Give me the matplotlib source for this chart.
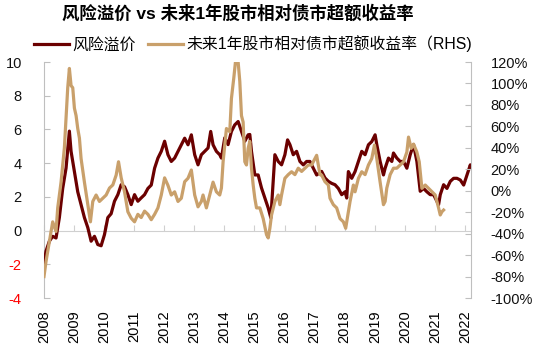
import matplotlib
matplotlib.use("Agg")
import matplotlib.pyplot as plt
from matplotlib.lines import Line2D
from matplotlib.ticker import FuncFormatter

plt.rcParams["font.family"] = ["Liberation Sans", "Noto Sans CJK SC"]

# risk premium (left axis)
risk_years = [2008.0, 2008.067, 2008.178, 2008.289, 2008.4, 2008.511, 2008.622, 2008.733,
              2008.844, 2008.9, 2008.956, 2009.011, 2009.122, 2009.233, 2009.344, 2009.456,
              2009.567, 2009.678, 2009.789, 2009.9, 2010.011, 2010.122, 2010.233, 2010.344,
              2010.456, 2010.567, 2010.678, 2010.789, 2010.9, 2011.011, 2011.122, 2011.233,
              2011.344, 2011.456, 2011.567, 2011.678, 2011.789, 2011.9, 2012.011, 2012.122,
              2012.233, 2012.344, 2012.456, 2012.567, 2012.678, 2012.789, 2012.9, 2013.011,
              2013.122, 2013.233, 2013.344, 2013.456, 2013.544, 2013.622, 2013.733, 2013.844,
              2013.9, 2014.011, 2014.122, 2014.233, 2014.344, 2014.456, 2014.567, 2014.678,
              2014.789, 2014.844, 2014.9, 2015.011, 2015.122, 2015.233, 2015.344, 2015.456,
              2015.544, 2015.622, 2015.678, 2015.789, 2015.9, 2016.011, 2016.1, 2016.178,
              2016.289, 2016.4, 2016.511, 2016.622, 2016.733, 2016.844, 2016.956, 2017.067,
              2017.233, 2017.344, 2017.456, 2017.567, 2017.678, 2017.789, 2017.9, 2018.011,
              2018.067, 2018.122, 2018.233, 2018.344, 2018.456, 2018.567, 2018.678, 2018.789,
              2018.9, 2019.011, 2019.067, 2019.178, 2019.289, 2019.344, 2019.456, 2019.567,
              2019.622, 2019.733, 2019.844, 2019.956, 2020.067, 2020.178, 2020.289, 2020.4,
              2020.511, 2020.622, 2020.733, 2020.844, 2020.956, 2021.067, 2021.122, 2021.178,
              2021.289, 2021.4, 2021.511, 2021.622, 2021.733, 2021.844, 2021.956, 2022.067,
              2022.178, 2022.2]
risk_vals = [-2.0, -1.22, -0.63, -0.34, -0.44, 0.77, 2.5, 3.7,
             5.9, 4.7, 4.1, 3.5, 2.3, 1.54, 0.77, 0.18,
             -0.63, -0.34, -0.83, -0.9, -0.24, 0.77, 1.0, 1.74,
             2.13, 2.72, 2.6, 2.13, 1.54, 2.13, 1.74, 1.94,
             2.13, 2.5, 2.7, 3.7, 4.3, 4.7, 5.3, 4.5,
             4.1, 4.3, 4.7, 5.09, 5.48, 5.09, 5.68, 4.5,
             3.9, 4.5, 4.7, 4.9, 5.88, 5.09, 4.7, 4.5,
             4.3, 5.5, 5.1, 5.88, 6.27, 6.47, 5.88, 5.3,
             5.68, 5.7, 4.7, 3.3, 3.3, 2.53, 1.93, 1.34,
             0.75, 2.92, 4.5, 4.1, 3.9, 4.5, 5.38, 5.1,
             4.5, 4.7, 4.1, 3.9, 4.1, 4.1, 3.7, 3.3,
             3.51, 3.12, 2.92, 2.8, 2.72, 2.5, 2.13, 2.3,
             1.93, 3.5, 3.1, 3.5, 4.1, 4.7, 4.5, 5.09,
             5.28, 5.68, 5.1, 4.1, 3.3, 3.7, 4.3, 4.1,
             4.6, 4.3, 4.1, 4.1, 3.7, 4.5, 5.1, 4.1,
             2.33, 2.5, 2.3, 2.13, 2.13, 1.74, 1.54, 2.13,
             2.72, 2.5, 2.92, 3.1, 3.1, 3.0, 2.7, 3.3,
             3.9, 3.7]

# next-1-year stock vs bond excess return, % (right axis)
ret_years = [2008.0, 2008.067, 2008.178, 2008.289, 2008.4, 2008.456, 2008.567, 2008.678,
             2008.733, 2008.789, 2008.844, 2008.9, 2008.956, 2009.011, 2009.067, 2009.122,
             2009.178, 2009.233, 2009.344, 2009.456, 2009.544, 2009.622, 2009.733, 2009.844,
             2009.956, 2010.067, 2010.178, 2010.289, 2010.4, 2010.478, 2010.567, 2010.678,
             2010.789, 2010.9, 2011.011, 2011.122, 2011.233, 2011.344, 2011.456, 2011.567,
             2011.678, 2011.789, 2011.9, 2012.011, 2012.122, 2012.233, 2012.344, 2012.456,
             2012.567, 2012.678, 2012.789, 2012.9, 2013.011, 2013.122, 2013.233, 2013.289,
             2013.4, 2013.511, 2013.622, 2013.733, 2013.844, 2013.9, 2013.956, 2014.067,
             2014.178, 2014.233, 2014.311, 2014.367, 2014.456, 2014.511, 2014.567, 2014.622,
             2014.678, 2014.733, 2014.789, 2014.844, 2014.9, 2014.956, 2015.011, 2015.067,
             2015.178, 2015.289, 2015.4, 2015.456, 2015.511, 2015.567, 2015.678, 2015.789,
             2015.844, 2015.9, 2016.011, 2016.122, 2016.233, 2016.344, 2016.456, 2016.567,
             2016.678, 2016.789, 2016.9, 2017.011, 2017.067, 2017.122, 2017.178, 2017.233,
             2017.344, 2017.456, 2017.511, 2017.622, 2017.733, 2017.844, 2017.956, 2018.033,
             2018.122, 2018.178, 2018.289, 2018.344, 2018.456, 2018.567, 2018.678, 2018.789,
             2018.9, 2018.989, 2019.067, 2019.178, 2019.289, 2019.344, 2019.4, 2019.511,
             2019.622, 2019.733, 2019.844, 2019.956, 2020.067, 2020.122, 2020.211, 2020.289,
             2020.4, 2020.478, 2020.567, 2020.678, 2020.789, 2020.9, 2021.011, 2021.122,
             2021.178, 2021.233, 2021.289]
ret_vals = [-80, -66, -47.5, -29, -38, -16, 8, 40,
            68, 96, 114, 98, 96, 77, 70, 58,
            49, 30, 8, -13, -29, -10, -4, -10,
            -7, -4, 2.5, 5.4, 14.6, 27, 12, -1,
            -19.6, -25.6, -29, -22, -25, -19, -22, -27,
            -22, -16, -4, 12, 5, -4, -1, -10,
            -7, 8.4, 11.6, 19.3, -4, -15, -10, -4,
            -16, -4, 8, -1, -4, 2.5, 27, 58,
            55, 86, 105, 120, 120, 102, 70, 64,
            27, 24, 39.5, 46, 21, 5.3, -7, -16,
            -16, -26, -41, -44, -35, -22.6, -10, -4,
            -13, -4, 11.6, 15, 17.7, 15, 21, 18,
            21, 24, 24, 30, 33, 24, 15, 14.6,
            8.4, 5.3, -7, -13, -16, -26, -29, -35,
            -19.6, -10, 5.3, -1, 11.6, 17.7, 15, 24,
            30, 42.6, 30, 8, -13, -10, 2.5, 15,
            21, 21, 24, 27, 36, 50, 39.5, 43.5,
            36, 27, 2.2, 5.3, 2.2, -1, -4, -16,
            -22.6, -19.6, -18]

years = list(range(2008, 2023))
left_ticks = list(range(-4, 11, 2))
right_ticks = list(range(-100, 121, 20))

maroon = "#6b0000"
tan = "#c9a06b"
grey = "#bfbfbf"

fig = plt.figure(figsize=(5.42, 3.5), dpi=100)
ax = fig.add_axes([44 / 542, 52 / 350, 427 / 542, 236 / 350])
ax2 = ax.twinx()

ax.plot(risk_years, risk_vals, color=maroon, lw=2.3, zorder=3)
ax2.plot(ret_years, ret_vals, color=tan, lw=2.3, zorder=3)

ax.set_xlim(2008, 2022.2)
ax.set_ylim(-4, 10)
ax2.set_ylim(-100, 120)

for a in (ax, ax2):
    a.spines["top"].set_visible(False)
ax.spines["right"].set_visible(False)
ax2.spines["left"].set_visible(False)
ax2.spines["bottom"].set_visible(False)
ax.spines["left"].set_color(grey)
ax2.spines["right"].set_color(grey)

# zero line acts as x axis
ax.spines["bottom"].set_position(("data", 0))
ax.spines["bottom"].set_color("#d0d0d0")
ax.set_xticks(years)
ax.tick_params(axis="x", direction="in", length=4, color="#d0d0d0", labelbottom=False)

sec = ax.secondary_xaxis("bottom")
sec.set_xticks(years)
sec.set_xticklabels([str(y) for y in years], rotation=90, fontsize=10.5)
sec.tick_params(length=0, pad=9)
sec.spines["bottom"].set_visible(False)

ax.set_yticks(left_ticks)
ax.set_yticklabels([str(t) for t in left_ticks], fontsize=10.5)
for lbl, t in zip(ax.get_yticklabels(), left_ticks):
    lbl.set_color("#ff0000" if t < 0 else "#111111")
ax.tick_params(axis="y", direction="in", length=4, color=grey, pad=16)

ax2.set_yticks(right_ticks)
ax2.yaxis.set_major_formatter(FuncFormatter(lambda v, p: f"{v:.0f}%"))
ax2.tick_params(axis="y", direction="in", length=4, color=grey, pad=14, labelsize=10.5,
                labelcolor="#111111")

fig.text(238 / 542, 1 - 13 / 350, "风险溢价 vs 未来1年股市相对债市超额收益率",
         ha="center", va="center", fontsize=12.5, fontweight="bold")

handles = [Line2D([0], [0], color=maroon, lw=2.3, label="风险溢价"),
           Line2D([0], [0], color=tan, lw=2.3, label="未来1年股市相对债市超额收益率（RHS)")]
fig.legend(handles=handles, loc="center left", bbox_to_anchor=(34 / 542, 1 - 44 / 350),
           ncol=2, frameon=False, fontsize=11.4, handlelength=2.2, handletextpad=0.2,
           columnspacing=0.8, borderpad=0, borderaxespad=0)

fig.savefig("out.png", dpi=100, facecolor="white")
